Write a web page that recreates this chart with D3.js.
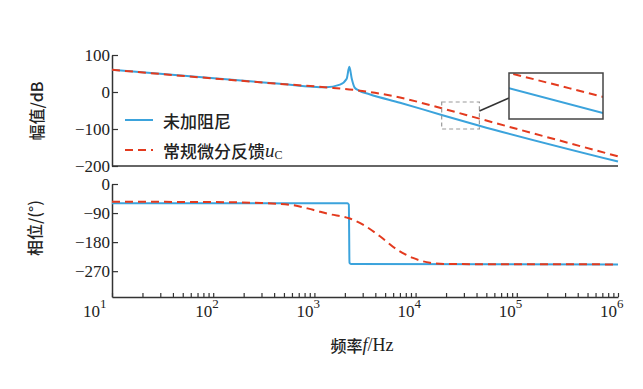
<!DOCTYPE html>
<html>
<head>
<meta charset="utf-8">
<script src="https://cdn.jsdelivr.net/npm/d3@7"></script>
<style>
  body { margin: 0; background: #fff; }
  svg { display: block; }
  .tick text { font-family: "Liberation Serif", "Times New Roman", serif; font-size: 17px; fill: #222; }
  .cjk { font-family: "Noto Sans CJK SC", sans-serif; fill: #222; }
</style>
</head>
<body>
<div id="chart"></div>
<script>
// magnitude, [frequency Hz, dB]
const magUndamped = [[10, 60], [457, 22], [1300, 13], [1790, 20], [2085, 36], [2213, 68], [2340, 36], [2500, 12], [2750, 4], [3500, -6], [7016, -29], [18100, -62], [42700, -91], [1e6, -188]];
const magFeedback = [[10, 60], [457, 22], [1400, 12], [2213, 7], [3550, 0], [7016, -15], [18100, -44], [42700, -72], [1e6, -174]];

// phase, [frequency Hz, deg]
const phaseUndamped = [[10, -60], [2120, -60], [2190, -64], [2205, -150], [2220, -244], [2300, -248], [1e6, -249]];
const phaseFeedback = [[10, -55], [100, -56], [300, -59], [600, -65], [968, -80], [1393, -93], [2197, -106], [3020, -126], [4446, -162], [6546, -203], [9415, -229], [13870, -244], [20000, -248], [1e6, -249]];

const magTicks = [100, 0, -100, -200];
const phaseTicks = [0, -90, -180, -270];
const decades = [1, 2, 3, 4, 5, 6];
const legendNames = ["未加阻尼", "常规微分反馈"];

// zoomed window of the magnitude plot (frequency and dB range)
const zoomFreq = [18100, 42700];
const zoomDb = [-98, -44];

const width = 643, height = 389;
const blue = "#3ba3dc", red = "#e33a1e", axisColor = "#333";

const svg = d3.select("#chart").append("svg")
    .attr("width", width)
    .attr("height", height);

const x = d3.scaleLog().domain([10, 1e6]).range([112, 618]);
const yMag = d3.scaleLinear().domain([-200, 100]).range([166, 55]);
const yPh = d3.scaleLinear().domain([-350, 0]).range([297, 184]);

function styleAxis(g) {
    g.select(".domain").attr("stroke", axisColor).attr("stroke-width", 1.5);
    g.selectAll(".tick line").attr("stroke", axisColor).attr("stroke-width", 1.2);
}

// Top panel axes
svg.append("g")
    .attr("transform", `translate(${x.range()[0]},0)`)
    .call(d3.axisLeft(yMag).tickValues(magTicks).tickSizeInner(-6).tickSizeOuter(0).tickPadding(2))
    .call(styleAxis);
svg.append("line")
    .attr("x1", 112).attr("x2", 618)
    .attr("y1", yMag(-200)).attr("y2", yMag(-200))
    .attr("stroke", axisColor).attr("stroke-width", 1.5);

// Bottom panel axes
svg.append("g")
    .attr("transform", `translate(${x.range()[0]},0)`)
    .call(d3.axisLeft(yPh).tickValues(phaseTicks).tickSizeInner(-6).tickSizeOuter(0).tickPadding(2))
    .call(styleAxis);

const minorTicks = [];
for (let e = 1; e < 6; e++) {
    for (let m = 1; m < 10; m++) minorTicks.push(m * Math.pow(10, e));
}
minorTicks.push(1e6);

svg.append("g")
    .attr("transform", `translate(0,${yPh.range()[0]})`)
    .call(d3.axisBottom(x).tickValues(minorTicks).tickFormat("").tickSizeInner(-4).tickSizeOuter(0))
    .call(styleAxis);

// decade labels 10^n
const xLabels = svg.append("g").attr("class", "tick");
decades.forEach((d, i) => {
    const t = xLabels.append("text")
        .attr("x", x(Math.pow(10, d)) - (i === 0 ? 29 : 18))
        .attr("y", 317)
        .attr("font-size", 18);
    t.append("tspan").text("10");
    t.append("tspan").attr("dy", -9).attr("font-size", 13).text(d);
});

// lines
const lineMag = d3.line().x(d => x(d[0])).y(d => yMag(d[1])).curve(d3.curveMonotoneX);
const linePh = d3.line().x(d => x(d[0])).y(d => yPh(d[1])).curve(d3.curveMonotoneX);

svg.append("path").datum(magUndamped)
    .attr("d", lineMag).attr("fill", "none").attr("stroke", blue).attr("stroke-width", 2);
svg.append("path").datum(magFeedback)
    .attr("d", lineMag).attr("fill", "none").attr("stroke", red).attr("stroke-width", 2)
    .attr("stroke-dasharray", "8,5");

svg.append("path").datum(phaseUndamped)
    .attr("d", linePh).attr("fill", "none").attr("stroke", blue).attr("stroke-width", 2);
svg.append("path").datum(phaseFeedback)
    .attr("d", linePh).attr("fill", "none").attr("stroke", red).attr("stroke-width", 2)
    .attr("stroke-dasharray", "8,5");

// zoom window and inset
const boxX0 = x(zoomFreq[0]), boxX1 = x(zoomFreq[1]);
svg.append("rect")
    .attr("x", boxX0).attr("y", 102)
    .attr("width", boxX1 - boxX0).attr("height", 27)
    .attr("fill", "none").attr("stroke", "#999").attr("stroke-width", 1.2)
    .attr("stroke-dasharray", "4,3");

const inset = { x0: 509, x1: 603, y0: 73, y1: 119 };
const xIn = d3.scaleLog().domain(zoomFreq).range([inset.x0, inset.x1]);
const yIn = d3.scaleLinear().domain(zoomDb).range([inset.y1, inset.y0]);
const lineIn = d3.line().x(d => xIn(d[0])).y(d => yIn(d[1])).curve(d3.curveMonotoneX);

svg.append("line")
    .attr("x1", boxX1).attr("y1", 111)
    .attr("x2", inset.x0).attr("y2", 98)
    .attr("stroke", axisColor).attr("stroke-width", 1.5);

svg.append("clipPath").attr("id", "insetClip")
    .append("rect")
    .attr("x", inset.x0).attr("y", inset.y0)
    .attr("width", inset.x1 - inset.x0).attr("height", inset.y1 - inset.y0);

svg.append("rect")
    .attr("x", inset.x0).attr("y", inset.y0)
    .attr("width", inset.x1 - inset.x0).attr("height", inset.y1 - inset.y0)
    .attr("fill", "#fff");

const insetG = svg.append("g").attr("clip-path", "url(#insetClip)");
insetG.append("path").datum(magUndamped)
    .attr("d", lineIn).attr("fill", "none").attr("stroke", blue).attr("stroke-width", 2);
insetG.append("path").datum(magFeedback)
    .attr("d", lineIn).attr("fill", "none").attr("stroke", red).attr("stroke-width", 2)
    .attr("stroke-dasharray", "8,5");

svg.append("rect")
    .attr("x", inset.x0).attr("y", inset.y0)
    .attr("width", inset.x1 - inset.x0).attr("height", inset.y1 - inset.y0)
    .attr("fill", "none").attr("stroke", "#444").attr("stroke-width", 1.5);

// legend
const legend = svg.append("g");
[blue, red].forEach((c, i) => {
    const ly = 120 + i * 30;
    legend.append("line")
        .attr("x1", 125).attr("x2", 153).attr("y1", ly).attr("y2", ly)
        .attr("stroke", c).attr("stroke-width", 2)
        .attr("stroke-dasharray", i === 1 ? "8,5" : null);
    const t = legend.append("text")
        .attr("class", "cjk")
        .attr("x", 163).attr("y", ly)
        .attr("dominant-baseline", "central")
        .attr("font-size", 17)
        .attr("font-weight", 500)
        .text(legendNames[i]);
    if (i === 1) {
        t.append("tspan")
            .attr("font-family", "'Liberation Serif', serif")
            .attr("font-style", "italic").attr("font-size", 19)
            .text("u");
        t.append("tspan")
            .attr("font-family", "'Liberation Serif', serif")
            .attr("font-size", 12).attr("dy", 5)
            .text("C");
    }
});

// axis titles
svg.append("text").attr("class", "cjk")
    .attr("transform", "translate(36,111) rotate(-90)")
    .attr("text-anchor", "middle").attr("dominant-baseline", "central")
    .attr("font-size", 16).attr("font-weight", 500)
    .text("幅值/dB");

svg.append("text").attr("class", "cjk")
    .attr("transform", "translate(34,228) rotate(-90)")
    .attr("text-anchor", "middle").attr("dominant-baseline", "central")
    .attr("font-size", 16).attr("font-weight", 500)
    .text("相位/(°)");

const xt = svg.append("text").attr("class", "cjk")
    .attr("x", 362).attr("y", 345)
    .attr("text-anchor", "middle").attr("dominant-baseline", "central")
    .attr("font-size", 16).attr("font-weight", 500)
    .text("频率");
xt.append("tspan").attr("font-family", "'Liberation Serif', serif").attr("font-style", "italic").attr("font-size", 18).text("f");
xt.append("tspan").attr("font-family", "'Liberation Serif', serif").attr("font-size", 18).text("/Hz");
</script>
</body>
</html>
